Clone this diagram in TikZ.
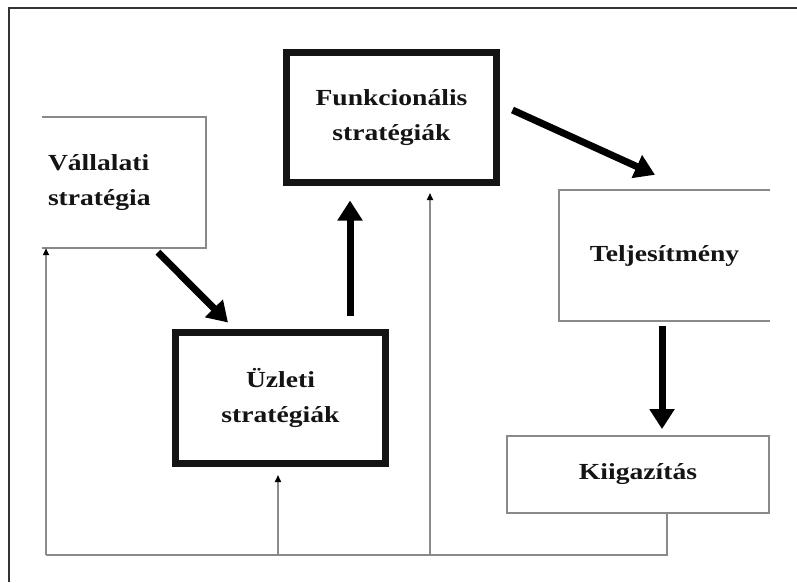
\documentclass[tikz,border=0pt]{standalone}
\usepackage{fontspec}
\setmainfont[FakeStretch=1.2]{Liberation Serif}
\usetikzlibrary{arrows.meta,calc}

\definecolor{boxgray}{HTML}{8C8888}
\definecolor{linegray}{HTML}{8A8A8A}
\definecolor{ink}{HTML}{141414}

\tikzset{
  label text/.style={font=\bfseries\fontsize{23}{35}\selectfont, text=ink},
  thickbox/.style={label text, draw=ink, line width=7pt, align=center, inner sep=0pt},
  thinbox/.style={draw=boxgray, line width=1.8pt},
  openbox/.style={label text, inner sep=0pt},
  bigarrow/.style={draw=black, line width=7pt,
    -{Triangle[length=20pt,width=24pt]}},
  feedline/.style={draw=linegray, line width=1.6pt},
  feedarrow/.style={draw=linegray, line width=1.6pt,
    -{Triangle[length=7pt,width=6pt,color=black]}},
  frame/.style={draw=black!80, line width=1.6pt}
}

\begin{document}
\begin{tikzpicture}[x=1pt, y=-1pt]
  \useasboundingbox (0,0) rectangle (797,582);

  % outer frame (left and top edges)
  \draw[frame] (9,582) -- (9,8) -- (797,8);

  % boxes
  \node[openbox, minimum width=164pt, minimum height=131pt,
        text width=152pt, align=left, inner xsep=6pt]
        (vall) at (124,182.5) {Vállalati\\stratégia};
  \draw[thinbox] (vall.north west) -- (vall.north east)
                 -- (vall.south east) -- (vall.south west);

  \node[thickbox, minimum width=210pt, minimum height=130pt]
        (funk) at (391.5,117.5) {Funkcionális\\stratégiák};

  \node[thickbox, minimum width=210pt, minimum height=131pt]
        (uzl) at (280.5,398) {Üzleti\\stratégiák};

  \node[openbox, minimum width=211pt, minimum height=131pt, align=center]
        (telj) at (664.5,255.5) {Teljesítmény};
  \draw[thinbox] (telj.north east) -- (telj.north west)
                 -- (telj.south west) -- (telj.south east);

  \node[openbox, thinbox, minimum width=262pt, minimum height=77pt, align=center]
        (kiig) at (638,474.5) {Kiigazítás};

  % main flow arrows
  \draw[bigarrow] ($(vall.south)+(34,4)$) -- ($(uzl.north)+(-52.5,-6.5)$);
  \draw[bigarrow] ($(uzl.north)+(69.5,-13.5)$) -- ($(funk.south)+(-41.5,14.5)$);
  \draw[bigarrow] ($(funk.east)+(12.5,-7.5)$) -- ($(telj.north)+(-9.5,-15)$);
  \draw[bigarrow] ($(telj.south)+(-2.5,5)$) -- ($(kiig.north)+(24,-6)$);

  % feedback loop
  \coordinate (kdrop) at (667,555);
  \coordinate (corner) at (46,555);
  \coordinate (b1) at (278,555);
  \coordinate (b2) at (430,555);
  \draw[feedline] (kiig.south -| kdrop) -- (kdrop) -- (corner);
  \draw[feedarrow] (corner) -- (corner |- vall.south);
  \draw[feedarrow] (b1) -- ($(b1 |- uzl.south)+(0,8)$);
  \draw[feedarrow] (b2) -- ($(b2 |- funk.south)+(0,7)$);
\end{tikzpicture}
\end{document}
